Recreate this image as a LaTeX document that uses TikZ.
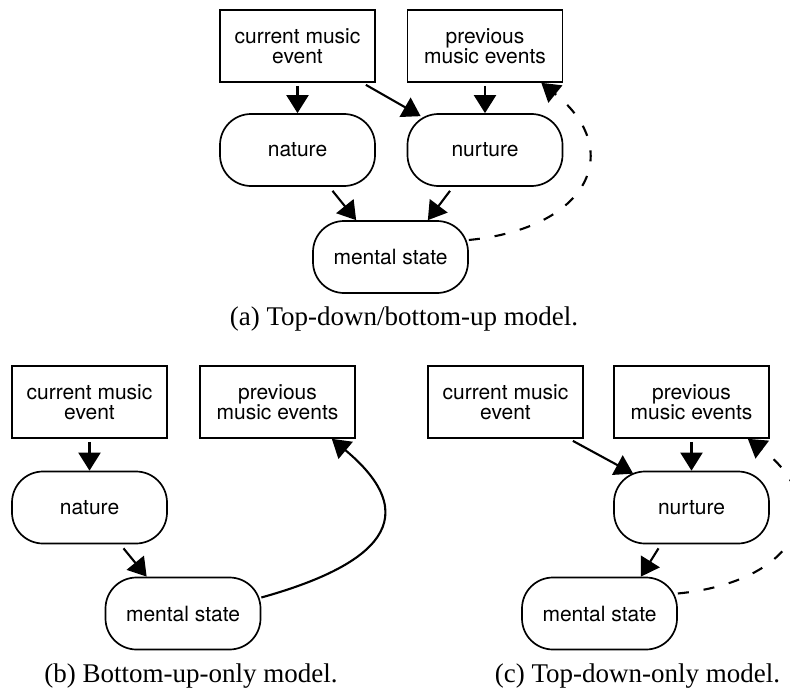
\documentclass[tikz,border=0pt]{standalone}
\usepackage{fontspec}
\setmainfont{Liberation Serif}
\setsansfont{TeX Gyre Heros}
\usetikzlibrary{arrows.meta}

\newcommand\diagfont{\sffamily\fontsize{21}{19.5}\selectfont}
\newcommand\captfont{\rmfamily\fontsize{27}{30}\selectfont}

\tikzset{
  box/.style={draw, line width=1.7pt, minimum width=155pt, minimum height=72pt,
              inner sep=0pt, align=center, font=\diagfont},
  state/.style={box, rounded corners=31pt},
  link/.style={line width=2.1pt, -{Triangle[length=18pt,width=22pt]}},
  feedback/.style={link, dash pattern=on 11pt off 15pt},
  caption/.style={anchor=base, inner sep=0pt, font=\captfont}
}

\begin{document}
\begin{tikzpicture}[x=1pt, y=-1pt]
  \path[use as bounding box, clip] (0,0) rectangle (790,693);

  % (a) top-down / bottom-up
  \node[box]   (curA) at (297.5,46)  {current music\\event};
  \node[box]   (prevA) at (485,46)   {previous\\music events};
  \node[state] (natA) at (297.5,150) {nature};
  \node[state] (nurA) at (485,150)   {nurture};
  \node[state] (menA) at (390.5,257) {mental state};

  \draw[link] ([yshift=-3pt]curA.south) -- (natA.north);
  \draw[link] ([xshift=-10pt,yshift=-2pt]curA.south east) -- ([xshift=14pt,yshift=-3pt]nurA.north west);
  \draw[link] ([yshift=-3pt]prevA.south) -- (nurA.north);
  \draw[link] ([xshift=35pt,yshift=-4pt]natA.south) -- ([xshift=44pt]menA.north west);
  \draw[link] ([xshift=-35pt,yshift=-4pt]nurA.south) -- ([xshift=-41pt]menA.north east);
  \draw[feedback] ([yshift=17pt]menA.east) .. controls (590,228) and (625,150) .. ([xshift=-22pt]prevA.south east);

  \node[caption] (capA) at (404,325) {(a) Top-down/bottom-up model.};

  % (b) bottom-up only
  \node[box]   (curB) at (89.5,402)   {current music\\event};
  \node[box]   (prevB) at (277.5,402) {previous\\music events};
  \node[state] (natB) at (89.5,507.5) {nature};
  \node[state] (menB) at (183,613.5)  {mental state};

  \draw[link] ([yshift=-3pt]curB.south) -- (natB.north);
  \draw[link] ([xshift=34pt,yshift=-4pt]natB.south) -- ([xshift=42pt]menB.north west);
  \draw[link] ([yshift=16pt]menB.east) .. controls (360,570) and (435,525) .. ([xshift=-24pt]prevB.south east);

  \node[caption] (capB) at (191,682) {(b) Bottom-up-only model.};

  % (c) top-down only
  \node[box]   (curC) at (505.5,402)   {current music\\event};
  \node[box]   (prevC) at (691.5,402)  {previous\\music events};
  \node[state] (nurC) at (691.5,507.5) {nurture};
  \node[state] (menC) at (599.5,613.5) {mental state};

  \draw[link] ([xshift=-11pt,yshift=-2pt]curC.south east) -- ([xshift=20pt,yshift=-3pt]nurC.north west);
  \draw[link] ([yshift=-3pt]prevC.south) -- (nurC.north);
  \draw[link] ([xshift=-33pt,yshift=-4pt]nurC.south) -- ([xshift=-37pt]menC.north east);
  \draw[feedback] ([yshift=20pt]menC.east) .. controls (799,581.5) and (834,503.5) .. ([xshift=-22pt]prevC.south east);

  \node[caption] (capC) at (637.5,682) {(c) Top-down-only model.};
\end{tikzpicture}
\end{document}
